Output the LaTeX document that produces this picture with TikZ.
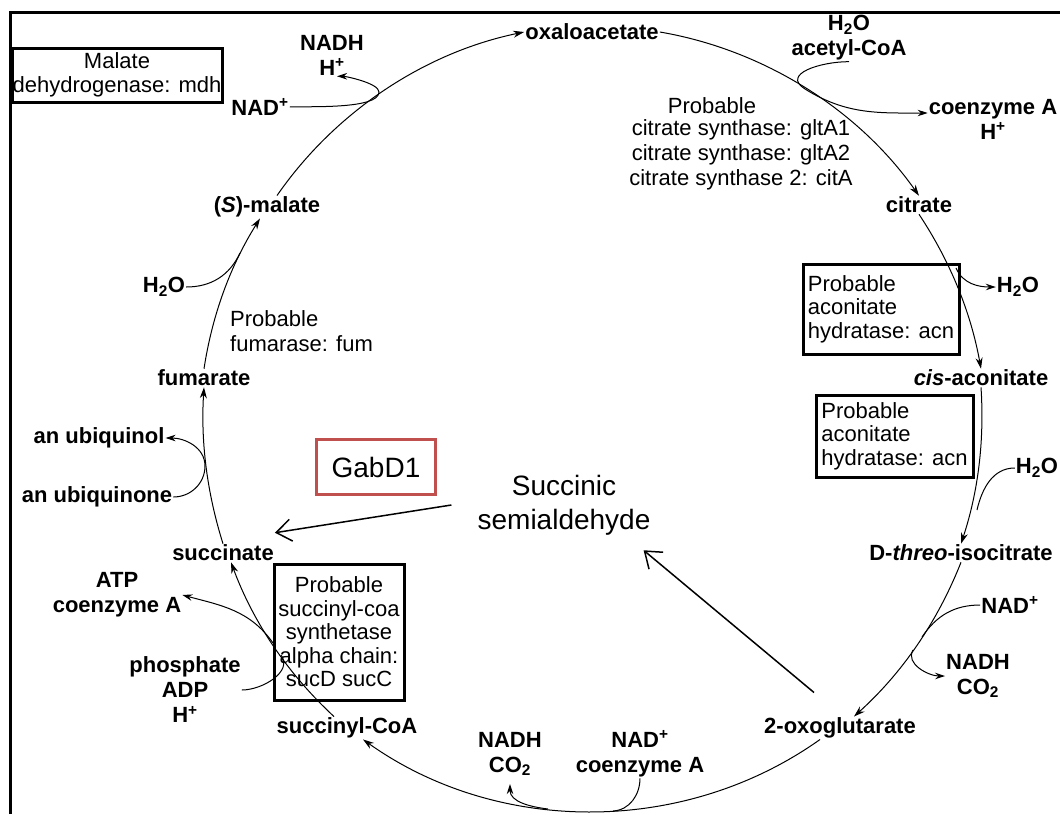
\documentclass[tikz,border=0pt]{standalone}
\usepackage{fontspec}
\setmainfont{Liberation Sans}
\usetikzlibrary{arrows.meta}
\definecolor{gabred}{RGB}{192,80,77}
\tikzset{
  met/.style={font=\fontsize{22}{25}\selectfont\bfseries,align=center,inner sep=1pt},
  enz/.style={font=\fontsize{22}{25}\selectfont,inner sep=1pt},
  enzbox/.style={draw,line width=3pt,font=\fontsize{22}{23.5}\selectfont,inner sep=0pt},
  gabbox/.style={draw=gabred,line width=3.5pt,font=\fontsize{28}{34}\selectfont,inner sep=0pt,minimum width=119pt,minimum height=55pt},
  cyc/.style={-{Stealth[length=11pt,width=7pt]},line width=1pt,looseness=.88},
  side/.style={line width=1pt},
  sidear/.style={side,-{Stealth[length=10pt,width=6.5pt]}},
  gab/.style={-{Straight Barb[length=15pt,width=22pt]},line width=1.5pt}
}
\begin{document}
\begin{tikzpicture}[x=1pt,y=1pt]
  \useasboundingbox (0,0) rectangle (1060,-814);
  \draw[line width=3pt] (10,-814) |- (1060,-12);
  \node[met] (oaa) at (592,-32) {oxaloacetate};
  \node[met] (acoa) at (849,-38) {H\textsubscript{2}O\\acetyl-CoA};
  \node[met] (coa1) at (993,-119) {coenzyme A\\H\textsuperscript{+}};
  \node[met] (cit) at (919,-205) {citrate};
  \node[met] (h2oA) at (1018,-287) {H\textsubscript{2}O};
  \node[met] (cis) at (981,-378) {\textit{cis}-aconitate};
  \node[met] (h2oB) at (1037,-468) {H\textsubscript{2}O};
  \node[met] (icit) at (961,-553) {D-\textit{threo}-isocitrate};
  \node[met] (nadC) at (1010,-605) {NAD\textsuperscript{+}};
  \node[met] (nadhC) at (978,-676) {NADH\\CO\textsubscript{2}};
  \node[met] (oxo) at (840,-728) {2-oxoglutarate};
  \node[met] (nadD) at (640,-754) {NAD\textsuperscript{+}\\coenzyme A};
  \node[met] (nadhD) at (510,-754) {NADH\\CO\textsubscript{2}};
  \node[met] (sca) at (347,-728) {succinyl-CoA};
  \node[met] (pi) at (185,-690) {phosphate\\ADP\\H\textsuperscript{+}};
  \node[met] (atp) at (117,-595) {ATP\\coenzyme A};
  \node[met] (suc) at (223,-553) {succinate};
  \node[met] (uqn) at (97,-497) {an ubiquinone};
  \node[met] (uql) at (99,-438) {an ubiquinol};
  \node[met] (fum) at (204,-378) {fumarate};
  \node[met] (h2oE) at (164,-287) {H\textsubscript{2}O};
  \node[met] (mal) at (267,-207) {(\textit{S})-malate};
  \node[met] (nadF) at (260,-107) {NAD\textsuperscript{+}};
  \node[met] (nadhF) at (332,-55) {NADH\\H\textsuperscript{+}};
  \node[enzbox,align=center,minimum width=210pt,minimum height=54pt] (mdh) at (117,-75) {Malate\\dehydrogenase: mdh};
  \node[enz] (csP) at (712,-106) {Probable};
  \node[enz,align=center] (cs) at (741,-155) {citrate synthase: gltA1\\citrate synthase: gltA2\\citrate synthase 2: citA};
  \node[enzbox,align=left,minimum width=156pt,minimum height=90pt] (acn1) at (881,-309) {Probable\\aconitate\\hydratase: acn};
  \node[enzbox,align=left,minimum width=157pt,minimum height=82pt] (acn2) at (894.5,-436) {Probable\\aconitate\\hydratase: acn};
  \node[enzbox,align=center,minimum width=130pt,minimum height=136pt] (scs) at (339,-632) {Probable\\succinyl-coa\\synthetase\\alpha chain:\\sucD sucC};
  \node[enz,align=left,anchor=west] (fumE) at (229,-331) {Probable\\fumarase: fum};
  \node[gabbox] (gabd) at (376,-467) {GabD1};
  \node[font=\fontsize{28}{34}\selectfont,align=center,inner sep=1pt] (ssa) at (564,-505) {Succinic\\semialdehyde};
  \draw[cyc] (oaa.east) to[bend left=22.6] (cit.north);
  \draw[cyc] (cit.south) to[bend left=11.6] (cis.north);
  \draw[cyc] (cis.south) to[bend left=11] (icit.north);
  \draw[cyc] (icit.south) to[bend left=13.2] ([xshift=14pt]oxo.north);
  \draw[cyc,looseness=.93] ([xshift=-20pt]oxo.south) to[bend left=35.4] ([xshift=16pt]sca.south);
  \draw[cyc] ([xshift=-13pt]sca.north) to[bend left=13.4] ([xshift=8pt]suc.south);
  \draw[cyc] (suc.north) to[bend left=10.5] (fum.south);
  \draw[cyc] (fum.north) to[bend left=11.7] ([xshift=-7pt]mal.south);
  \draw[cyc] ([xshift=10pt]mal.north) to[bend left=21.8] (oaa.west);
  \coordinate (jA) at (379,-92);
  \coordinate (jB) at (805,-89);
  \coordinate (jC) at (956,-268);
  \coordinate (jD) at (977,-510);
  \coordinate (jE1) at (922,-637);
  \coordinate (jE2) at (913,-650);
  \coordinate (jF1) at (613,-811);
  \coordinate (jF2) at (548,-809);
  \coordinate (jG1) at (281,-655);
  \coordinate (jG2) at (273,-643);
  \coordinate (jH) at (205,-466);
  \coordinate (jI) at (240,-253);
  \draw[sidear] (nadF.east) to[out=3,in=-90,looseness=.5] (jA) to[out=90,in=0,looseness=.5] ([xshift=5pt]nadhF.south);
  \draw[side] (acoa.south) to[out=180,in=148,looseness=1.4] (jB);
  \draw[sidear] (jB) to[out=-32,in=180] ([yshift=6pt]coa1.west);
  \draw[sidear] (jC) to[out=-67,in=180] (h2oA.west);
  \draw[side] (h2oB.west) to[out=180,in=77] (jD);
  \draw[side] (nadC.west) to[out=180,in=56] (jE1);
  \draw[sidear] (jE2) to[out=-120,in=180] (nadhC.west);
  \draw[side] (nadD.south) to[out=-90,in=3] (jF1);
  \draw[sidear] (jF2) to[out=173,in=-90] ([yshift=-7pt]nadhD.south);
  \draw[side] (pi.east) to[out=0,in=-53] (jG1);
  \draw[sidear] (jG2) to[out=125,in=-15] (atp.east);
  \draw[sidear] (uqn.east) to[out=0,in=-90] (jH) to[out=90,in=0] (uql.east);
  \draw[side] (h2oE.east) to[out=0,in=-115] (jI);
  \draw[gab] ([xshift=-25pt]ssa.west) -- ([yshift=11pt]suc.north east);
  \draw[gab] ([xshift=-26pt,yshift=24pt]oxo.north) -- ([xshift=-8pt,yshift=-14pt]ssa.south east);
\end{tikzpicture}
\end{document}
